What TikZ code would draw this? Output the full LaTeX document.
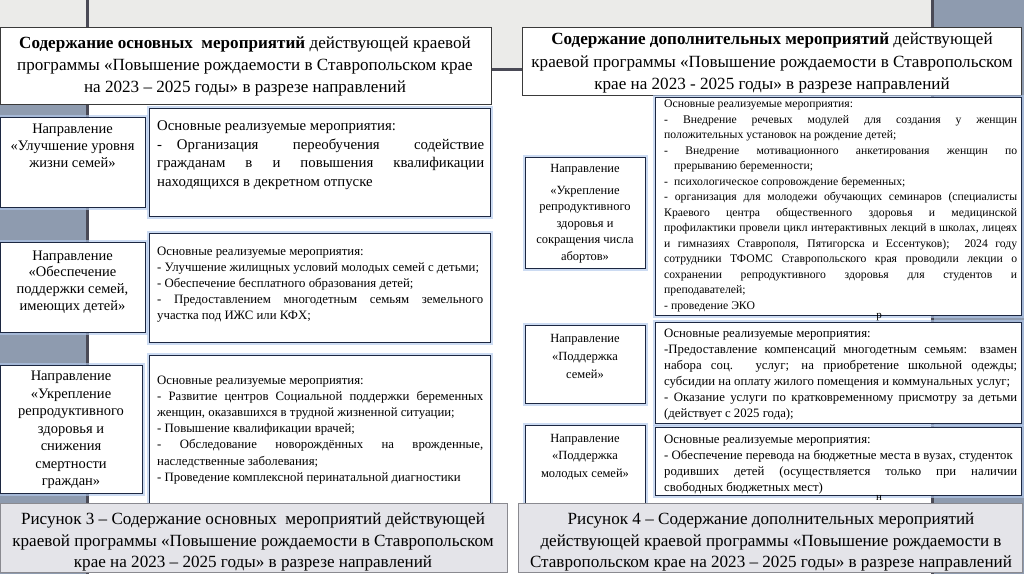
\documentclass[tikz,border=0pt]{standalone}
\usepackage{fontspec}
\setmainfont{Liberation Serif}
\definecolor{bandgrey}{HTML}{EBEBE9}
\definecolor{stripe}{HTML}{8E9BAF}
\definecolor{darkline}{HTML}{4A4A56}
\definecolor{boxline}{HTML}{1C2741}
\definecolor{glow}{HTML}{B2C8EC}
\definecolor{titleline}{HTML}{3A3A3A}
\definecolor{capfill}{HTML}{E4E4E9}
\definecolor{capline}{HTML}{8A8A90}
\newcommand\jl[2]{\makebox[#1pt][s]{#2}}
\newcommand\fs[2]{\fontsize{#1}{#2}\selectfont}
\tikzset{
  mbox/.style={draw=boxline, line width=1.3pt, fill=white, inner sep=0pt, anchor=north west,
    preaction={draw=glow, line width=5pt, opacity=0.65}},
  tbox/.style={draw=titleline, line width=0.9pt, fill=white, inner sep=0pt, anchor=north west},
  cbox/.style={draw=capline, line width=0.9pt, fill=capfill, inner sep=0pt, anchor=north west},
  ltxt/.style={inner sep=0pt, align=left, anchor=north west},
  ctxt/.style={inner sep=0pt, align=center, anchor=north},
}
\begin{document}
\begin{tikzpicture}[x=1pt,y=-1pt]
\useasboundingbox (0,0) rectangle (1024,574);
% background
\fill[white] (0,0) rectangle (1024,574);
\fill[bandgrey] (0,0) rectangle (932,69);
\fill[stripe] (0,69) rectangle (87,574);
\fill[stripe] (932,0) rectangle (1024,574);
\draw[darkline, line width=3pt] (87,0) -- (87,574);
\draw[darkline, line width=3pt] (932,0) -- (932,574);
\draw[darkline, line width=3pt] (87,69) -- (932,69);
% title boxes
\node[tbox, minimum width=491pt, minimum height=77pt] (t1) at (0,27) {};
\node[tbox, minimum width=499pt, minimum height=68pt] (t2) at (522,27) {};
\node[ctxt, font=\fs{17.1}{22}] (t1t) at (245,36.6)
 {\textbf{Содержание основных\ \ мероприятий} действующей краевой\\
  программы «Повышение рождаемости в Ставропольском крае\\
  на 2023 – 2025 годы» в разрезе направлений};
\node[ctxt, font=\fs{17.1}{22.5}] (t2t) at (772,32.6)
 {\textbf{Содержание дополнительных мероприятий} действующей\\
  краевой программы «Повышение рождаемости в Ставропольском\\
  крае на 2023 - 2025 годы» в разрезе направлений};
% left column
\node[mbox, minimum width=145pt, minimum height=90pt] (l1d) at (0,117) {};
\node[mbox, minimum width=341pt, minimum height=108pt] (l1c) at (149,108) {};
\node[mbox, minimum width=145pt, minimum height=90pt] (l2d) at (0,242) {};
\node[mbox, minimum width=341pt, minimum height=109pt] (l2c) at (149,233) {};
\node[mbox, minimum width=142pt, minimum height=128pt] (l3d) at (0,365) {};
\node[mbox, minimum width=341pt, minimum height=160pt] (l3c) at (149,355) {};
\node[ctxt, font=\fs{14.5}{17}] (l1dt) at (72.5,123.6)
 {Направление\\«Улучшение уровня\\жизни семей»};
\node[ctxt, font=\fs{14.5}{16.6}] (l2dt) at (72.5,250.6)
 {Направление\\«Обеспечение\\поддержки семей,\\имеющих детей»};
\node[ctxt, font=\fs{14.5}{17.5}] (l3dt) at (71,371)
 {Направление\\«Укрепление\\репродуктивного\\здоровья и\\снижения\\смертности\\граждан»};
\node[ltxt, font=\fs{14.8}{18.7}] (l1ct) at (157,120.5)
 {Основные реализуемые мероприятия:\\
  \jl{327}{-\quad Организация переобучения содействие}\\
  \jl{327}{гражданам в и повышения квалификации}\\
  находящихся в декретном отпуске};
\node[ltxt, font=\fs{12.8}{16}] (l2ct) at (157,246.4)
 {Основные реализуемые мероприятия:\\
  - Улучшение жилищных условий молодых семей с детьми;\\
  - Обеспечение бесплатного образования детей;\\
  \jl{326}{- Предоставлением многодетным семьям земельного}\\
  участка под ИЖС или КФХ;};
\node[ltxt, font=\fs{12.8}{16.2}] (l3ct) at (157,375.4)
 {Основные реализуемые мероприятия:\\
  \jl{326}{- Развитие центров Социальной поддержки беременных}\\
  женщин, оказавшихся в трудной жизненной ситуации;\\
  - Повышение квалификации врачей;\\
  \jl{326}{- Обследование новорождённых на врожденные,}\\
  наследственные заболевания;\\
  - Проведение комплексной перинатальной диагностики};
% right column
\node[mbox, minimum width=120pt, minimum height=111pt] (r1d) at (525,157) {};
\node[mbox, minimum width=366pt, minimum height=218pt] (r1c) at (655,97) {};
\node[mbox, minimum width=120pt, minimum height=78pt] (r2d) at (525,325) {};
\node[mbox, minimum width=366pt, minimum height=101pt] (r2c) at (655,322) {};
\node[mbox, minimum width=120pt, minimum height=90pt] (r3d) at (525,425) {};
\node[mbox, minimum width=366pt, minimum height=68pt] (r3c) at (655,427) {};
\node[ctxt, font=\fs{12.5}{16.5}] (r1dt) at (585,164.5)
 {Направление\\[5pt]«Укрепление\\репродуктивного\\здоровья и\\сокращения числа\\абортов»};
\node[ctxt, font=\fs{12.5}{18}] (r2dt) at (585,334)
 {Направление\\«Поддержка\\семей»};
\node[ctxt, font=\fs{12.5}{17.5}] (r3dt) at (585,434)
 {Направление\\«Поддержка\\молодых семей»};
\node[ltxt, font=\fs{11.7}{15.5}] (r1ct) at (664,99.9)
 {Основные реализуемые мероприятия:\\
  \jl{353}{- Внедрение речевых модулей для создания у женщин}\\
  положительных установок на рождение детей;\\
  \jl{353}{- Внедрение мотивационного анкетирования женщин по}\\
  \hspace*{10pt}прерыванию беременности;\\
  -\hspace*{6pt}психологическое сопровождение беременных;\\
  \jl{353}{- организация для молодежи обучающих семинаров (специалисты}\\
  \jl{353}{Краевого центра общественного здоровья и медицинской}\\
  \jl{353}{профилактики провели цикл интерактивных лекций в школах, лицеях}\\
  \jl{353}{и гимназиях Ставрополя, Пятигорска и Ессентуков);\ \ 2024 году}\\
  \jl{353}{сотрудники ТФОМС Ставропольского края проводили лекции о}\\
  \jl{353}{сохранении репродуктивного здоровья для студентов и}\\
  преподавателей;\\
  - проведение ЭКО};
\node[ltxt, font=\fs{12.8}{16}] (r2ct) at (664,328.4)
 {Основные реализуемые мероприятия:\\
  \jl{353}{-Предоставление компенсаций многодетным семьям: взамен}\\
  \jl{353}{набора соц. услуг; на приобретение школьной одежды;}\\
  субсидии на оплату жилого помещения и коммунальных услуг;\\
  \jl{353}{- Оказание услуги по кратковременному присмотру за детьми}\\
  (действует с 2025 года);};
\node[ltxt, font=\fs{12.8}{16.3}] (r3ct) at (664,434.4)
 {Основные реализуемые мероприятия:\\
  - Обеспечение перевода на бюджетные места в вузах, студенток\\
  \jl{353}{родивших детей (осуществляется только при наличии}\\
  свободных бюджетных мест)};
\node[inner sep=0pt, font=\fs{11}{13}] (sr) at (879,317) {р};
\node[inner sep=0pt, font=\fs{11}{13}] (sn) at (879,498) {н};
% captions
\node[cbox, minimum width=507pt, minimum height=69pt] (c1) at (0,503) {};
\node[cbox, minimum width=504pt, minimum height=69pt] (c2) at (518,503) {};
\node[ctxt, font=\fs{17.1}{21.5}] (c1t) at (253,512.6)
 {Рисунок 3 – Содержание основных\ \ мероприятий действующей\\
  краевой программы «Повышение рождаемости в Ставропольском\\
  крае на 2023 – 2025 годы» в разрезе направлений};
\node[ctxt, font=\fs{17.1}{21.5}] (c2t) at (771,512.6)
 {Рисунок 4 – Содержание дополнительных мероприятий\\
  действующей краевой программы «Повышение рождаемости в\\
  Ставропольском крае на 2023 – 2025 годы» в разрезе направлений};
\end{tikzpicture}
\end{document}
